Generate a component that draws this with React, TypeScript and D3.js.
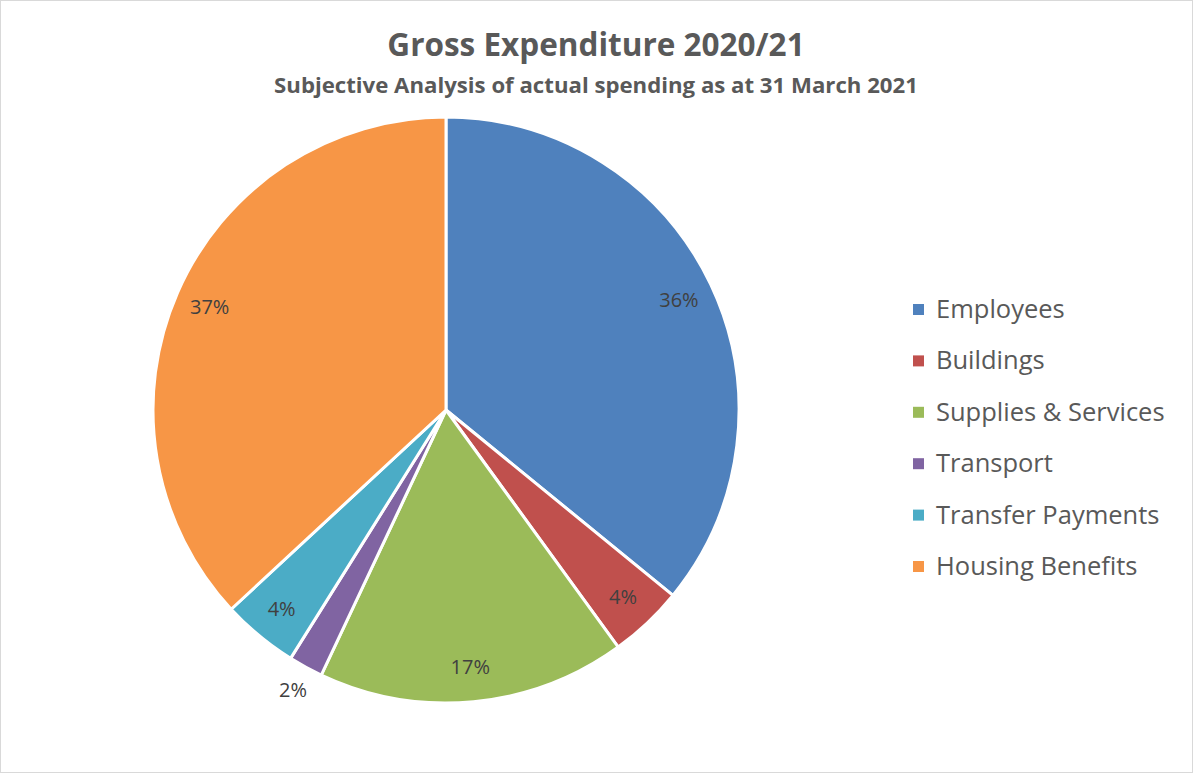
import React from "react";
import * as d3 from "d3";

const categories = ["Employees", "Buildings", "Supplies & Services", "Transport", "Transfer Payments", "Housing Benefits"];
const values = [35.9, 4.1, 17.0, 1.9, 4.2, 36.9];
const colors = ["#4F81BD", "#C0504D", "#9BBB59", "#8064A2", "#4BACC6", "#F79646"];
const title = "Gross Expenditure 2020/21";
const subtitle = "Subjective Analysis of actual spending as at 31 March 2021";

const W = 1193;
const H = 773;
const cx = 446;
const cy = 410;
const R = 293;
const FONT = "'Open Sans', 'Noto Sans', sans-serif";

export default function App() {
  const total = d3.sum(values);
  const pie = d3.pie<number>().sort(null).value((d) => d);
  const arcs = pie(values);
  const arcGen = d3.arc<d3.PieArcDatum<number>>().innerRadius(0).outerRadius(R);
  const legendY = d3.scalePoint<string>().domain(categories).range([309, 566]);

  return (
    <svg width={W} height={H} style={{ position: "absolute", left: 0, top: 0 }}>
      <rect x={0.5} y={0.5} width={W - 1} height={H - 1} fill="#fff" stroke="#D9D9D9" />
      <text x={596} y={56} textAnchor="middle" fontFamily={FONT} fontWeight="bold" fontSize={31.5} fill="#595959">
        {title}
      </text>
      <text x={596} y={93} textAnchor="middle" fontFamily={FONT} fontWeight="bold" fontSize={22.2} fill="#595959">
        {subtitle}
      </text>
      <g transform={`translate(${cx},${cy})`}>
        {arcs.map((a, i) => (
          <path key={i} d={arcGen(a) || ""} fill={colors[i]} stroke="#fff" strokeWidth={3} strokeLinejoin="round" />
        ))}
        {arcs.map((a, i) => {
          const mid = (a.startAngle + a.endAngle) / 2;
          const pct = (a.value / total) * 100;
          const rr = pct < 3 ? R * 1.09 : R * 0.88;
          const x = rr * Math.sin(mid);
          const y = -rr * Math.cos(mid);
          return (
            <text key={"l" + i} x={x} y={y} dy="0.35em" textAnchor="middle" fontFamily={FONT} fontSize={20} fill="#404040">
              {`${Math.round(pct)}%`}
            </text>
          );
        })}
      </g>
      {categories.map((c, i) => (
        <g key={c} transform={`translate(0,${legendY(c)})`}>
          <rect x={913} y={-5} width={11} height={11} fill={colors[i]} />
          <text x={936} y={0} dy="0.35em" fontFamily={FONT} fontSize={25.5} fill="#595959">
            {c}
          </text>
        </g>
      ))}
    </svg>
  );
}
